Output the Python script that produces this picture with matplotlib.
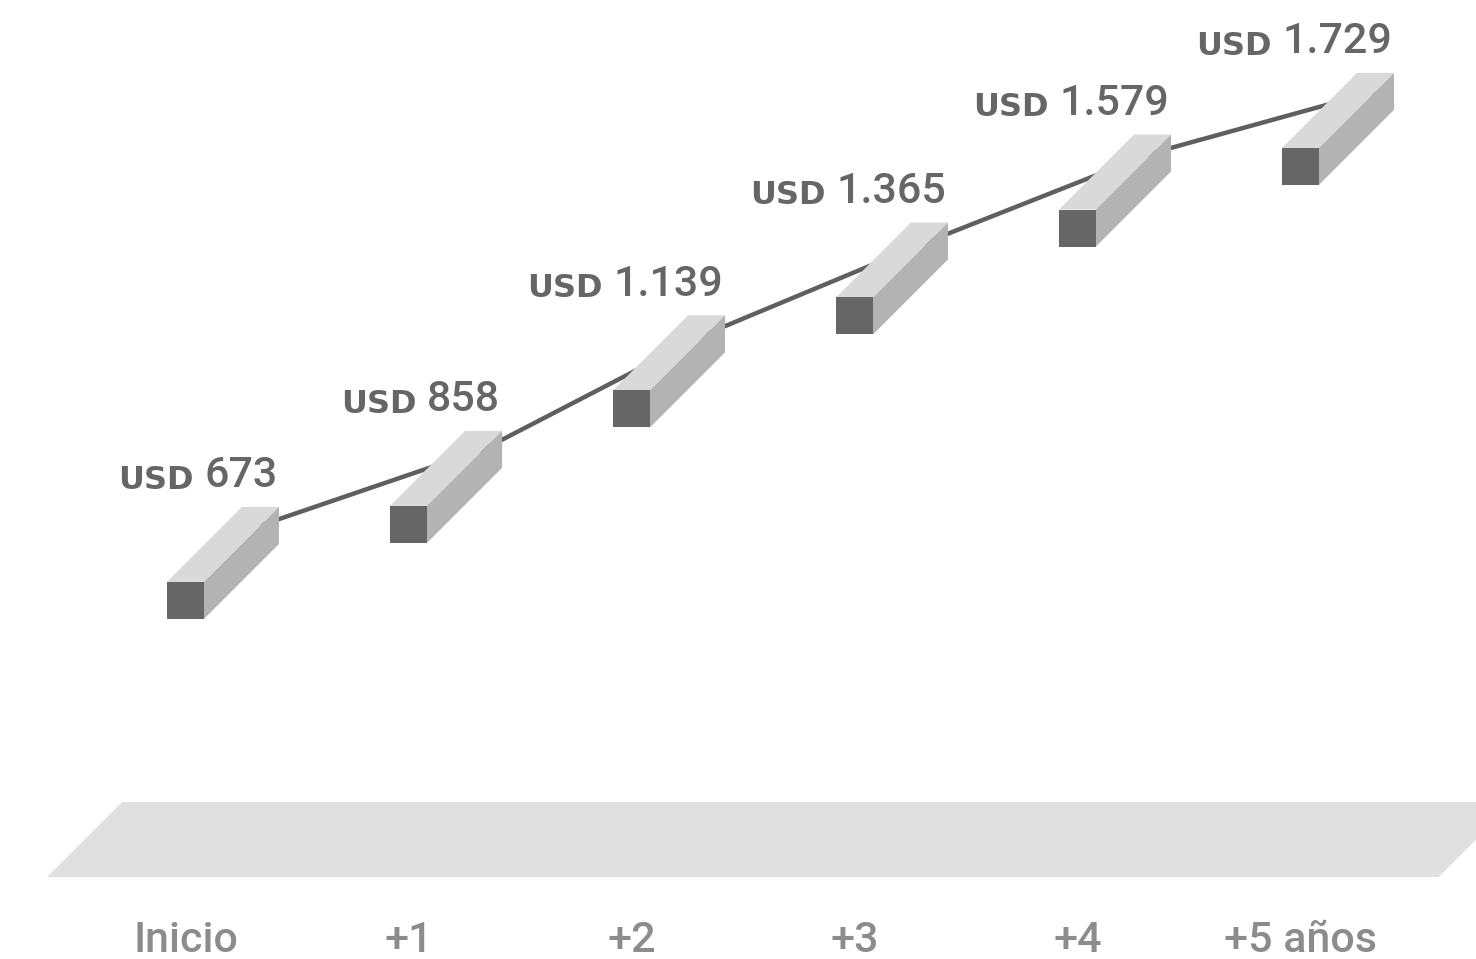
import matplotlib
matplotlib.use("Agg")
import numpy as np
import matplotlib.pyplot as plt
from matplotlib.patches import Polygon
import matplotlib.transforms as mtransforms

# ---- data ----
categories = ["Inicio", "+1", "+2", "+3", "+4", "+5 años"]
values = [673, 858, 1139, 1365, 1579, 1729]
value_labels = ["673", "858", "1.139", "1.365", "1.579", "1.729"]
currency = "USD"

# ---- style ----
W, H, DPI = 1476, 959, 100
FRONT = "#666666"
TOP = "#d9d9d9"
SIDE = "#b3b3b3"
LINE = "#5f5f5f"
FLOOR = "#e0e0e0"
TXT = "#666666"
TICK = "#8c8c8c"
NUMFONT = ["Roboto", "DejaVu Sans"]
CURFONT = ["DejaVu Sans"]

half = 0.185   # half of front-face size, inches
depth = 0.75   # 3D depth offset, inches
PT = 72.0 / DPI

fig = plt.figure(figsize=(W / DPI, H / DPI), dpi=DPI)
ax = fig.add_axes([0, 0, 1, 1])
ax.set_xlim(-0.8318, 5.787)
ax.set_ylim(-199.5, 2133.8)
ax.axis("off")

# floor (front edge at value 0)
x0, x1 = -0.62, len(categories) - 1 + 0.62
p0 = ax.transData.transform((x0, 0)) / DPI
p1 = ax.transData.transform((x1, 0)) / DPI
floor = Polygon([p0, p1, p1 + depth, p0 + depth], closed=True,
                transform=fig.dpi_scale_trans, facecolor=FLOOR,
                edgecolor="none", zorder=1, clip_on=False)
ax.add_patch(floor)

# series line through the back-face centres
back = ax.transData + mtransforms.ScaledTranslation(depth, depth, fig.dpi_scale_trans)
ax.plot(range(len(values)), values, color=LINE, lw=3.2, transform=back,
        zorder=2, solid_capstyle="butt", clip_on=False)

# boxes
h, d = half, depth
for i, v in enumerate(values):
    t = fig.dpi_scale_trans + mtransforms.ScaledTranslation(i, v, ax.transData)
    top = [(-h, h), (h, h), (h + d, h + d), (-h + d, h + d)]
    side = [(h, -h), (h + d, -h + d), (h + d, h + d), (h, h)]
    front = [(-h, -h), (h, -h), (h, h), (-h, h)]
    for verts, c in ((top, TOP), (side, SIDE), (front, FRONT)):
        ax.add_patch(Polygon(verts, closed=True, transform=t, facecolor=c,
                             edgecolor="none", zorder=3, clip_on=False))

# value labels
for i, (v, lab) in enumerate(zip(values, value_labels)):
    num = ax.annotate(lab, xy=(i, v), xytext=(92 * PT, 113 * PT),
                      textcoords="offset points", ha="right", va="baseline",
                      fontsize=31, color=TXT, family=NUMFONT, fontweight="medium",
                      zorder=5)
    ax.annotate(currency, xy=(0, 0), xycoords=num, xytext=(-8, 0.5),
                textcoords="offset points", ha="right", va="bottom",
                fontsize=23, color=TXT, family=CURFONT, fontweight="bold",
                zorder=5)

# category labels
for i, c in enumerate(categories):
    ax.annotate(c, xy=(i, 0), xytext=(0, -75 * PT), textcoords="offset points",
                ha="center", va="baseline", fontsize=31, color=TICK,
                family=NUMFONT, fontweight="medium", zorder=5)

fig.savefig("out.png", dpi=DPI)
